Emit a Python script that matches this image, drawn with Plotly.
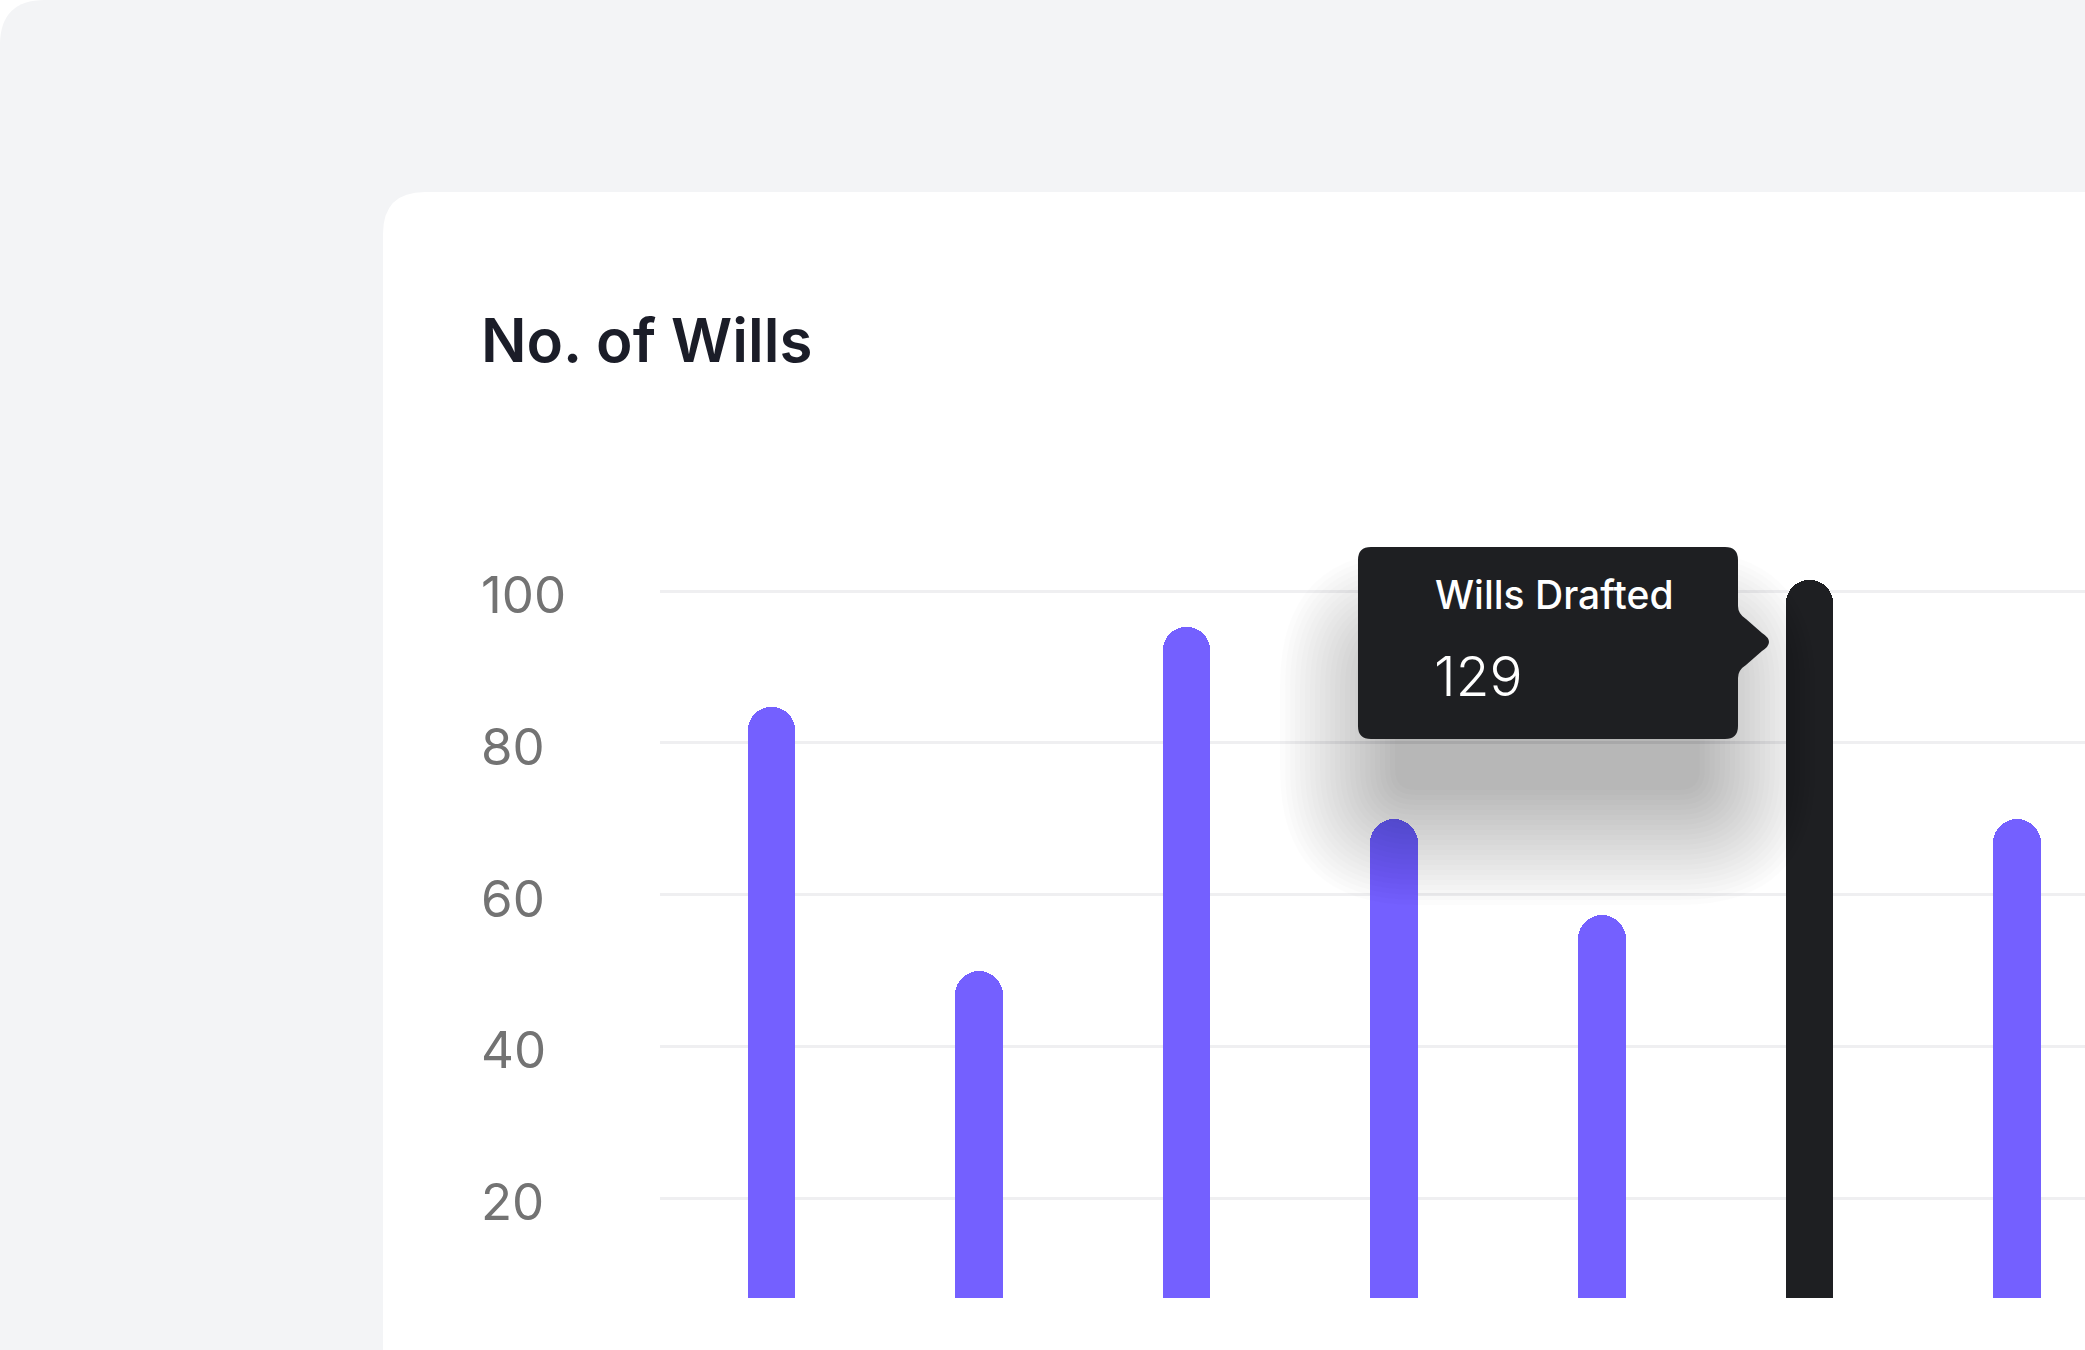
import plotly.graph_objects as go

# Data
months = ["Jan", "Feb", "Mar", "Apr", "May", "Jun", "Jul"]   # x labels are not shown
wills = [84.7, 50, 95.2, 70, 57.3, 101.5, 70]
y_ticks = [20, 40, 60, 80, 100]
highlight = 5                      # bar with the tooltip
tooltip_label = "Wills Drafted"
tooltip_value = "129"
title = "No. of Wills"

# Palette
_PAGE   = "#FFFFFF"
_BG     = "#F3F4F6"
_CARD   = "#FFFFFF"
_PURPLE = "#7460FF"
_DARK   = "#1E1F22"
_TITLE  = "#1B1D28"
_MUTED  = "#737373"
_GRID   = "#EFEFF1"
_FONT   = "Inter"

# Canvas / plot-area geometry (px)
W, H = 2085, 1350
M_L, M_R, M_T, M_B = 660, 0, 540, 52
PW, PH = W - M_L - M_R, H - M_T - M_B


def _pt(x, y):
    """pixel -> paper coords"""
    return (x - M_L) / PW, (H - M_B - y) / PH


def _path(cmds):
    out = []
    for c in cmds:
        op, nums = c[0], c[1:]
        pts = []
        for i in range(0, len(nums), 2):
            px, py = _pt(nums[i], nums[i + 1])
            pts.append(f"{px:.5f},{py:.5f}")
        out.append(op + " ".join(pts))
    return " ".join(out) + " Z"


def _rounded(x0, y0, x1, y1, r):
    return _path([
        ("M", x0 + r, y0), ("L", x1 - r, y0), ("Q", x1, y0, x1, y0 + r),
        ("L", x1, y1 - r), ("Q", x1, y1, x1 - r, y1), ("L", x0 + r, y1),
        ("Q", x0, y1, x0, y1 - r), ("L", x0, y0 + r), ("Q", x0, y0, x0 + r, y0),
    ])


def _tl_rounded(x0, y0, x1, y1, r):
    return _path([
        ("M", x0 + r, y0), ("L", x1, y0), ("L", x1, y1), ("L", x0, y1),
        ("L", x0, y0 + r), ("Q", x0, y0, x0 + r, y0),
    ])


colors = [_DARK if i == highlight else _PURPLE for i in range(len(wills))]

fig = go.Figure()
fig.add_trace(go.Bar(
    x=months,
    y=wills,
    width=0.229,
    marker=dict(color=colors, line_width=0, cornerradius="50%"),
    hoverinfo="skip",
    showlegend=False,
))

shapes = [
    # page + card
    dict(type="path", path=_tl_rounded(0, 0, W + 2, H + 2, 45), layer="below",
         xref="paper", yref="paper", fillcolor=_BG, line_width=0),
    dict(type="path", path=_tl_rounded(383, 192, W + 2, H + 2, 42), layer="below",
         xref="paper", yref="paper", fillcolor=_CARD, line_width=0),
]

# soft drop shadow, pushed down below the tooltip
for k in range(24):
    e = 5 * k
    shapes.append(dict(
        type="path", path=_rounded(1395 - e, 665 - e, 1700 + e, 790 + e, 20 + e),
        xref="paper", yref="paper", layer="above",
        fillcolor="rgba(0,0,0,0.010)", line_width=0,
    ))

# tooltip box with pointer towards the highlighted bar
L, R, T, B, r = 1358, 1738, 547, 739, 13
shapes.append(dict(
    type="path", xref="paper", yref="paper", layer="above",
    fillcolor=_DARK, line_width=0,
    path=_path([
        ("M", L + r, T), ("L", R - r, T), ("Q", R, T, R, T + r),
        ("L", R, 606), ("Q", R, 614, R + 8, 619),
        ("L", 1762, 633), ("Q", 1776, 642, 1762, 651),
        ("L", R + 8, 665), ("Q", R, 670, R, 678),
        ("L", R, B - r), ("Q", R, B, R - r, B), ("L", L + r, B),
        ("Q", L, B, L, B - r), ("L", L, T + r), ("Q", L, T, L + r, T),
    ]),
))

annotations = [
    dict(text=title, x=_pt(479, 0)[0], y=_pt(0, 340)[1], xref="paper", yref="paper",
         xanchor="left", yanchor="middle", showarrow=False,
         font=dict(family=_FONT, size=60, color=_TITLE, weight=600)),
    dict(text=tooltip_label, x=_pt(1433, 0)[0], y=_pt(0, 594)[1], xref="paper", yref="paper",
         xanchor="left", yanchor="middle", showarrow=False,
         font=dict(family=_FONT, size=39, color="#FFFFFF", weight=500)),
    dict(text=tooltip_value, x=_pt(1432, 0)[0], y=_pt(0, 676)[1], xref="paper", yref="paper",
         xanchor="left", yanchor="middle", showarrow=False,
         font=dict(family=_FONT, size=55, color="#FFFFFF", weight=300)),
]

fig.update_layout(
    width=W,
    height=H,
    margin=dict(l=M_L, r=M_R, t=M_T, b=M_B, pad=0),
    paper_bgcolor=_PAGE,
    plot_bgcolor="rgba(0,0,0,0)",
    shapes=shapes,
    annotations=annotations,
    bargap=0,
    xaxis=dict(
        range=[-0.536, 6.327],
        showticklabels=False, showgrid=False, zeroline=False, showline=False,
        fixedrange=True,
    ),
    yaxis=dict(
        range=[6.87, 106.72],
        tickvals=y_ticks,
        ticks="",
        showgrid=True, gridcolor=_GRID, gridwidth=3,
        zeroline=False, showline=False,
        ticklabelposition="inside",
        ticklabelstandoff=-182,
        ticklabelshift=4,
        tickfont=dict(family=_FONT, size=51, color=_MUTED),
        fixedrange=True,
    ),
)

# page body has a default 8px margin; drop it so the figure sits at (0, 0)
fig.write_html(
    "out.html",
    config={"displayModeBar": False},
    post_script="document.body.style.margin='0';",
)
